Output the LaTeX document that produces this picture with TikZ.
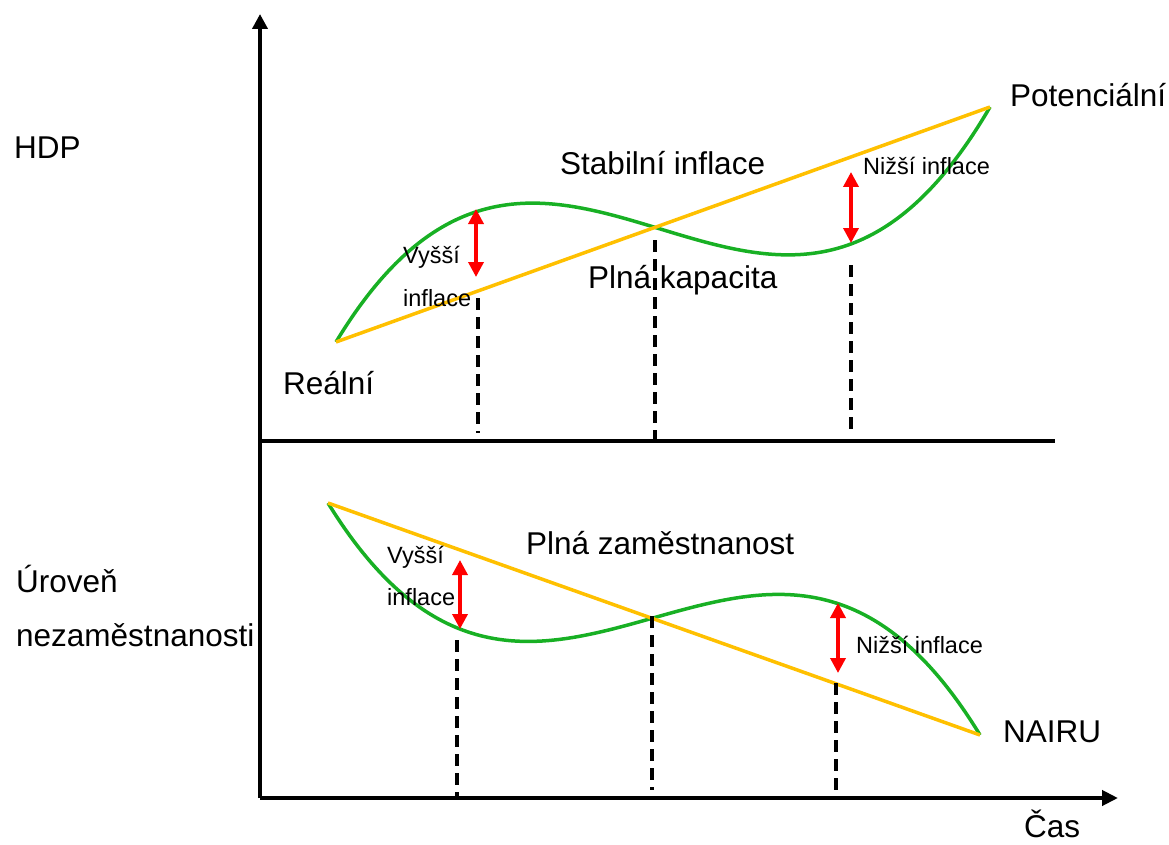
\documentclass[tikz,border=0pt]{standalone}
\usepackage{fontspec}
\setmainfont{Liberation Sans}
\usetikzlibrary{arrows.meta}
\definecolor{cgreen}{RGB}{24,176,36}
\definecolor{cyellow}{RGB}{255,192,0}
\begin{document}
\begin{tikzpicture}[x=1pt,y=-1pt,
  axis/.style={line width=4pt},
  gline/.style={draw=cgreen,line width=3.5pt},
  yline/.style={draw=cyellow,line width=3.5pt},
  redarrow/.style={draw=red,line width=3.5pt,{Triangle[length=15pt,width=15pt]}-{Triangle[length=15pt,width=15pt]}},
  guide/.style={line width=3.5pt,dash pattern=on 12pt off 7pt},
  big/.style={font=\fontsize{31.5}{36}\selectfont,anchor=base west,inner sep=0pt},
  small/.style={font=\fontsize{23.5}{27}\selectfont,anchor=base west,inner sep=0pt}]
\useasboundingbox (0,0) rectangle (1169,845);
% axes
\coordinate (O) at (260,798);
\coordinate (Ytop) at (260,14);
\coordinate (Xend) at (1118,798);
\coordinate (M0) at (260,441);
\coordinate (M1) at (1055,441);
\draw[axis,-{Triangle[length=15pt,width=15pt]}] (O) -- (Ytop);
\draw[axis,-{Triangle[length=16pt,width=15pt]}] (O) -- (Xend);
\draw[axis] (M0) -- (M1);
% upper chart
\coordinate (U0) at (336,342);
\coordinate (U1) at (990,107);
\draw[gline] plot[domain=336:990,samples=150,smooth] (\x,{342+(\x-336)*(-235/654) - 6.2*((\x-336)/100)*((\x-655)/100)*((\x-990)/100)});
\draw[yline] (U0) -- (U1);
\coordinate (ua1) at (476,209); \coordinate (ua2) at (476,277);
\coordinate (ub1) at (851,172); \coordinate (ub2) at (851,243);
\draw[redarrow] (ua1) -- (ua2);
\draw[redarrow] (ub1) -- (ub2);
\coordinate (ud1a) at (478,298); \coordinate (ud1b) at (478,433);
\coordinate (ud2a) at (655,240); \coordinate (ud2b) at (655,441);
\coordinate (ud3a) at (851,265); \coordinate (ud3b) at (851,433);
\draw[guide] (ud1a) -- (ud1b);
\draw[guide] (ud2a) -- (ud2b);
\draw[guide] (ud3a) -- (ud3b);
% lower chart
\coordinate (L0) at (328,503);
\coordinate (L1) at (980,735);
\draw[gline] plot[domain=328:980,samples=150,smooth] (\x,{503+(\x-328)*(232/652) + 6.0*((\x-328)/100)*((\x-652)/100)*((\x-980)/100)});
\draw[yline] (L0) -- (L1);
\coordinate (la1) at (460,560); \coordinate (la2) at (460,629);
\coordinate (lb1) at (838,603); \coordinate (lb2) at (838,673);
\draw[redarrow] (la1) -- (la2);
\draw[redarrow] (lb1) -- (lb2);
\coordinate (ld1a) at (457,640); \coordinate (ld1b) at (457,798);
\coordinate (ld2a) at (652,616); \coordinate (ld2b) at (652,790);
\coordinate (ld3a) at (836,683); \coordinate (ld3b) at (836,798);
\draw[guide] (ld1a) -- (ld1b);
\draw[guide] (ld2a) -- (ld2b);
\draw[guide] (ld3a) -- (ld3b);
% labels
\node[big] (hdp) at (14,159) {HDP};
\node[big] (pot) at (1010,107) {Potenciální};
\node[big] (stab) at (560,175) {Stabilní inflace};
\node[big] (kap) at (588,288) {Plná kapacita};
\node[big] (real) at (283,394) {Reální};
\node[small] (nu) at (863,175) {Nižší inflace};
\node[small] (vu1) at (403,263) {Vyšší};
\node[small] (vu2) at (403,306) {inflace};
\node[big] (zam) at (526,554) {Plná zaměstnanost};
\node[small] (vl1) at (387,563) {Vyšší};
\node[small] (vl2) at (387,605) {inflace};
\node[small] (nl) at (856,653) {Nižší inflace};
\node[big] (nairu) at (1003,742) {NAIRU};
\node[big] (ur1) at (16,592) {Úroveň};
\node[big] (ur2) at (16,646) {nezaměstnanosti};
\node[big] (cas) at (1024,837) {Čas};
\end{tikzpicture}
\end{document}
